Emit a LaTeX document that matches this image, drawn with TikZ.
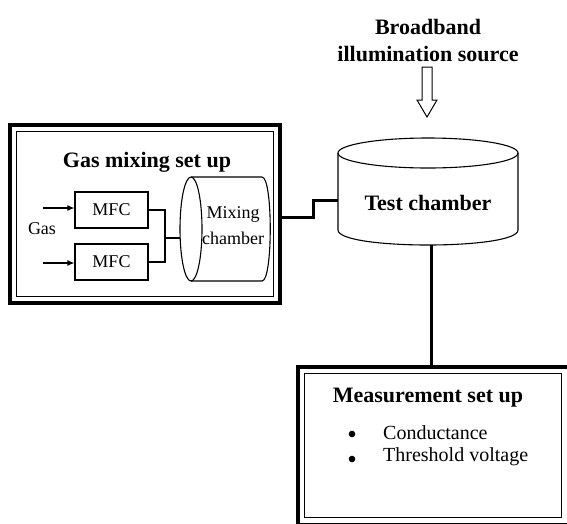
\documentclass[tikz,border=0pt]{standalone}
\usepackage{fontspec}
\setmainfont{Liberation Serif}
\usetikzlibrary{arrows.meta}
\begin{document}
\begin{tikzpicture}[x=1pt,y=-1pt,
  thickbox/.style={line width=4pt},
  thinbox/.style={line width=1.2pt},
  wire/.style={line width=1.1pt},
  heavy/.style={line width=3pt},
  ttl/.style={font=\bfseries\fontsize{22}{24}\selectfont, inner sep=0pt},
  lbl/.style={font=\fontsize{18}{20}\selectfont, inner sep=0pt},
  lblb/.style={font=\fontsize{20}{22}\selectfont, inner sep=0pt},
  mfcbox/.style={draw, line width=1.1pt, minimum width=73pt, minimum height=36pt, inner sep=0pt, font=\fontsize{18}{20}\selectfont},
  feed/.style={line width=1.1pt, -{Latex[length=7pt,width=6pt]}}
]
\useasboundingbox (0,0) rectangle (567,523);
\fill[white] (0,0) rectangle (567,523);

% Gas mixing box
\draw[thickbox] (10,125) rectangle (280,303);
\draw[thinbox] (16.5,131.5) rectangle (273.5,296.5);
\node[ttl] (gtitle) at (147,162) {Gas mixing set up};

\node[mfcbox] (m1) at (111.5,210) {MFC};
\node[mfcbox] (m2) at (111.5,262) {MFC};
\coordinate (g1) at (43,208);
\coordinate (g2) at (43,263);
\draw[feed] (g1) -- (g1 -| m1.west);
\draw[feed] (g2) -- (g2 -| m2.west);
\node[lbl] (gas) at (42,229) {Gas};

% mixing chamber
\coordinate (mc) at (191,229);
\draw[line width=1.1pt] (mc) ellipse [x radius=11pt, y radius=52pt];
\draw[line width=1.1pt] (191,177) -- (262,177) .. controls (273,177) and (273,281) .. (262,281) -- (191,281);
\node[lbl] (mix1) at (233,214) {Mixing};
\node[lbl] (mix2) at (233,238) {chamber};

\coordinate (j) at (165,238);
\draw[wire] (m1.east) -| (j) |- (m2.east);
\draw[wire] (j) -- (180,238);

% Test chamber
\coordinate (tc) at (428,153);
\draw[line width=1.1pt] (tc) ellipse [x radius=90pt, y radius=15pt];
\draw[line width=1.1pt] (338,153) -- (338,230) .. controls (338,250) and (518,250) .. (518,230) -- (518,153);
\node[ttl] (tchamber) at (428,203) {Test chamber};

\node[ttl] (b1) at (428,27) {Broadband};
\node[ttl] (b2) at (428,54) {illumination source};
\draw[line width=1pt] (422,67) -- (432,67) -- (432,100) -- (437,100) -- (427,117) -- (417,100) -- (422,100) -- cycle;

% connector gas box -> test chamber
\coordinate (ga) at (282,217);
\coordinate (tl) at (338,200);
\draw[heavy] (ga) -- (313,217) -- (313,200) -- (tl);

% connector test chamber -> measurement
\coordinate (tb) at (431,245);
\coordinate (mt) at (431,365);
\draw[heavy] (tb) -- (mt);

% Measurement box
\draw[thickbox] (298,367) rectangle (569,525);
\draw[thinbox] (304.5,373.5) rectangle (561.5,517.5);
\node[ttl] (mtitle) at (428,398) {Measurement set up};
\fill (352,434) circle (3.3pt);
\fill (352,459) circle (3.3pt);
\node[lblb, anchor=west] (c1) at (383,433) {Conductance};
\node[lblb, anchor=west] (c2) at (383,457) {Threshold voltage};
\end{tikzpicture}
\end{document}
